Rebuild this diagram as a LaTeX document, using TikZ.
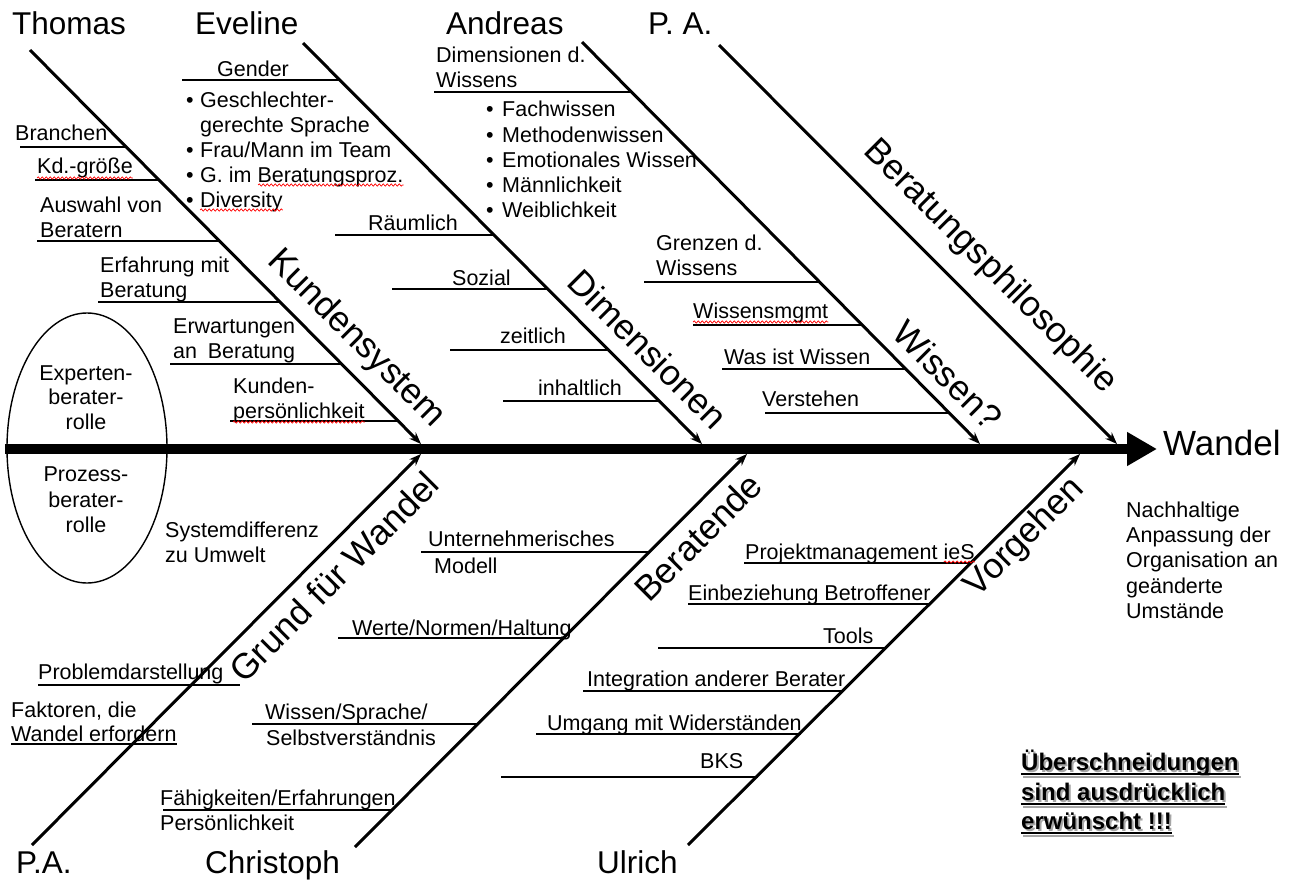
\documentclass[tikz,border=0pt]{standalone}
\usepackage{fontspec}
\setmainfont{Liberation Sans}
\usetikzlibrary{arrows.meta,calc,decorations.pathmorphing,shapes.geometric}

% rib: horizontal branch line ending on a bone
\newcommand\rib[4]{% name, x left, x right, y
  \coordinate (#1-l) at (#2,#4);
  \coordinate (#1-r) at (#3,#4);
  \draw[ribline] (#1-l) -- (#1-r);}

\begin{document}
\begin{tikzpicture}[x=1pt,y=-1pt,
  lbl/.style={font=\fontsize{21.5}{25}\selectfont, inner sep=0pt, anchor=base west},
  mid/.style={font=\fontsize{21.5}{25}\selectfont, inner sep=0pt, anchor=base},
  person/.style={font=\fontsize{31.5}{36}\selectfont, inner sep=0pt, anchor=base west},
  bonetitle/.style={font=\fontsize{35.5}{40}\selectfont, inner sep=0pt, anchor=center},
  warn/.style={font=\bfseries\fontsize{24}{30}\selectfont, inner sep=0pt, anchor=base west},
  bone/.style={line width=3pt, -{Stealth[length=12pt,width=9pt]}},
  ribline/.style={line width=1.8pt},
  spell/.style={draw=red, line width=0.7pt, decorate,
    decoration={snake, amplitude=1.1pt, segment length=4pt}},
]
\useasboundingbox (0,0) rectangle (1296,883);

% ---- roles ellipse on the left
\node[draw, ellipse, line width=1.4pt, minimum width=160pt, minimum height=270pt,
  inner sep=0pt] (rollen) at (87,448) {};
\node[mid] (exp1) at (86,380) {Experten-};
\node[mid] (exp2) at (86,404) {berater-};
\node[mid] (exp3) at (86,429) {rolle};
\node[mid] (pro1) at (86,481) {Prozess-};
\node[mid] (pro2) at (86,507) {berater-};
\node[mid] (pro3) at (86,532) {rolle};

% ---- spine with the effect
\coordinate (spineStart) at (5,449);
\coordinate (spineTip) at (1157,449);
\draw[line width=10pt, -{Triangle[length=30pt,width=32pt]}] (spineStart) -- (spineTip);
\node[font=\fontsize{35}{40}\selectfont, inner sep=0pt, anchor=base west] (wandel) at (1163,455) {Wandel};

% ---- bones
\coordinate (thomasTop) at (30,50);     \coordinate (thomasEnd) at (421,444);
\coordinate (evelineTop) at (303,43);   \coordinate (evelineEnd) at (702,444);
\coordinate (andreasTop) at (582,42);   \coordinate (andreasEnd) at (980,444);
\coordinate (paTop) at (719,45);        \coordinate (paEnd) at (1117,444);
\coordinate (grundBot) at (32,845);     \coordinate (grundEnd) at (421,454);
\coordinate (christophBot) at (355,847);\coordinate (christophEnd) at (747,454);
\coordinate (ulrichBot) at (688,845);   \coordinate (ulrichEnd) at (1080,454);
\draw[bone] (thomasTop) -- (thomasEnd);
\draw[bone] (evelineTop) -- (evelineEnd);
\draw[bone] (andreasTop) -- (andreasEnd);
\draw[bone] (paTop) -- (paEnd);
\draw[bone] (grundBot) -- (grundEnd);
\draw[bone] (christophBot) -- (christophEnd);
\draw[bone] (ulrichBot) -- (ulrichEnd);

% ---- bone titles
\node[bonetitle, rotate=-45] (tKunden) at (356,339) {Kundensystem};
\node[bonetitle, rotate=-45] (tDim) at (648,349) {Dimensionen};
\node[bonetitle, rotate=-45] (tWissen) at (948,375) {Wissen?};
\node[bonetitle, rotate=-45] (tPhil) at (990,267) {Beratungsphilosophie};
\node[bonetitle, rotate=45] (tGrund) at (334,577) {Grund für Wandel};
\node[bonetitle, rotate=45] (tBer) at (698,537) {Beratende};
\node[bonetitle, rotate=45] (tVor) at (1025,538) {Vorgehen};

% ---- people
\node[person] (nThomas) at (12,35) {Thomas};
\node[person] (nEveline) at (195,35) {Eveline};
\node[person] (nAndreas) at (446,35) {Andreas};
\node[person] (nPA) at (648,35) {P. A.};
\node[person] (nPA2) at (16,873) {P.A.};
\node[person] (nChristoph) at (205,873) {Christoph};
\node[person] (nUlrich) at (597,873) {Ulrich};

% ---- Kundensystem ribs
\node[lbl] (branchen) at (15,140) {Branchen};
\rib{rBranchen}{20}{126}{147}
\node[lbl] (kdgr) at (37,173) {Kd.-größe};
\rib{rKd}{35}{158}{180}
\node[lbl] (ausw1) at (40,212) {Auswahl von};
\node[lbl] (ausw2) at (40,237) {Beratern};
\rib{rAusw}{37}{218}{241}
\node[lbl] (erf1) at (100,272) {Erfahrung mit};
\node[lbl] (erf2) at (100,297) {Beratung};
\rib{rErf}{98}{279}{302}
\node[lbl] (erw1) at (173,333) {Erwartungen};
\node[lbl] (erw2) at (173,358) {an\enspace Beratung};
\rib{rErw}{170}{340}{364}
\node[lbl] (kp1) at (233,393) {Kunden-};
\node[lbl] (kp2) at (233,418) {persönlichkeit};
\rib{rKp}{230}{397}{421}

% ---- Dimensionen ribs
\node[lbl] (gender) at (217,77) {Gender};
\rib{rGender}{182}{340}{80}
\node[lbl] (gb1) at (186,107) {•};
\node[lbl] (g1) at (200,107) {Geschlechter-};
\node[lbl] (g2) at (200,132) {gerechte Sprache};
\node[lbl] (gb3) at (186,157) {•};
\node[lbl] (g3) at (200,157) {Frau/Mann im Team};
\node[lbl] (gb4) at (186,182) {•};
\node[lbl] (g4) at (200,182) {G. im Beratungsproz.};
\node[lbl] (gb5) at (186,207) {•};
\node[lbl] (g5) at (200,207) {Diversity};
\node[lbl] (raeum) at (368,230) {Räumlich};
\rib{rRaeum}{335}{494}{235}
\node[lbl] (sozial) at (452,285) {Sozial};
\rib{rSozial}{392}{548}{289}
\node[lbl] (zeit) at (500,343) {zeitlich};
\rib{rZeit}{450}{608}{350}
\node[lbl] (inhalt) at (538,395) {inhaltlich};
\rib{rInhalt}{503}{659}{401}

% ---- Wissen? ribs
\node[lbl] (dw1) at (436,63) {Dimensionen d.};
\node[lbl] (dw2) at (436,88) {Wissens};
\rib{rDw}{434}{630}{92}
\node[lbl] (wb1) at (486,117) {•};
\node[lbl] (w1) at (502,117) {Fachwissen};
\node[lbl] (wb2) at (486,142) {•};
\node[lbl] (w2) at (502,142) {Methodenwissen};
\node[lbl] (wb3) at (486,167) {•};
\node[lbl] (w3) at (502,167) {Emotionales Wissen};
\node[lbl] (wb4) at (486,192) {•};
\node[lbl] (w4) at (502,192) {Männlichkeit};
\node[lbl] (wb5) at (486,217) {•};
\node[lbl] (w5) at (502,217) {Weiblichkeit};
\node[lbl] (gr1) at (656,250) {Grenzen d.};
\node[lbl] (gr2) at (656,275) {Wissens};
\rib{rGr}{644}{819}{282}
\node[lbl] (wm) at (693,318) {Wissensmgmt};
\rib{rWm}{693}{862}{325}
\node[lbl] (wiw) at (724,364) {Was ist Wissen};
\rib{rWiw}{722}{906}{369}
\node[lbl] (verst) at (762,406) {Verstehen};
\rib{rVerst}{765}{950}{413}

% ---- Grund für Wandel ribs
\node[lbl] (sd1) at (165,537) {Systemdifferenz};
\node[lbl] (sd2) at (165,562) {zu Umwelt};
\node[lbl] (prob) at (38,679) {Problemdarstellung};
\rib{rProb}{38}{240}{685}
\node[lbl] (fak1) at (11,717) {Faktoren, die};
\node[lbl] (fak2) at (11,741) {Wandel erfordern};
\draw[ribline] ($(fak2.base west)+(0,3)$) -- ($(fak2.base east)+(0,3)$);

% ---- Beratende ribs
\node[lbl] (um1) at (428,546) {Unternehmerisches};
\node[lbl] (um2) at (434,573) {Modell};
\rib{rUm}{421}{650}{552}
\node[lbl] (wnh) at (352,635) {Werte/Normen/Haltung};
\rib{rWnh}{338}{564}{638}
\node[lbl] (wss1) at (265,719) {Wissen/Sprache/};
\node[lbl] (wss2) at (266,745) {Selbstverständnis};
\rib{rWss}{252}{478}{724}
\node[lbl] (fe1) at (160,805) {Fähigkeiten/Erfahrungen};
\node[lbl] (fe2) at (160,830) {Persönlichkeit};
\rib{rFe}{163}{392}{810}

% ---- Vorgehen ribs
\node[lbl] (pm) at (745,559) {Projektmanagement ieS};
\rib{rPm}{744}{972}{563}
\node[lbl] (eb) at (688,600) {Einbeziehung Betroffener};
\rib{rEb}{688}{931}{604}
\node[lbl] (tools) at (823,643) {Tools};
\rib{rTools}{658}{887}{648}
\node[lbl] (integ) at (587,686) {Integration anderer Berater};
\rib{rInteg}{583}{844}{691}
\node[lbl] (umg) at (547,730) {Umgang mit Widerständen};
\rib{rUmg}{536}{801}{734}
\node[lbl] (bks) at (700,768) {BKS};
\rib{rBks}{501}{758}{777}

% ---- description of the effect
\node[lbl] (nh1) at (1126,517) {Nachhaltige};
\node[lbl] (nh2) at (1126,542) {Anpassung der};
\node[lbl] (nh3) at (1126,567) {Organisation an};
\node[lbl] (nh4) at (1126,593) {geänderte};
\node[lbl] (nh5) at (1126,618) {Umstände};

% ---- note with shadow
\foreach \n/\yy/\t in {ue1/770/Überschneidungen, ue2/800/sind ausdrücklich, ue3/829/erwünscht !!!}{
  \node[warn, text=black!35] (\n s) at (1023,\yy+2) {\t};
  \draw[line width=1.8pt, black!35] ($(\n s.base west)+(0,5)$) -- ($(\n s.base east)+(0,5)$);
  \node[warn] (\n) at (1021,\yy) {\t};
  \draw[line width=1.8pt] ($(\n.base west)+(0,4)$) -- ($(\n.base east)+(0,4)$);
}

% ---- spelling marks
\draw[spell] ($(kdgr.base west)+(0,5)$) -- ($(kdgr.base east)+(0,5)$);
\draw[spell] ($(g4.base west)+(58,3)$) -- ($(g4.base east)+(0,3)$);
\draw[spell] ($(g5.base west)+(0,3)$) -- ($(g5.base east)+(0,3)$);
\draw[spell] ($(kp2.base west)+(0,4)$) -- ($(kp2.base east)+(0,4)$);
\draw[spell] ($(wm.base west)+(0,4)$) -- ($(wm.base east)+(0,4)$);
\draw[spell] ($(pm.base east)+(-31,3)$) -- ($(pm.base east)+(0,3)$);
\end{tikzpicture}
\end{document}
